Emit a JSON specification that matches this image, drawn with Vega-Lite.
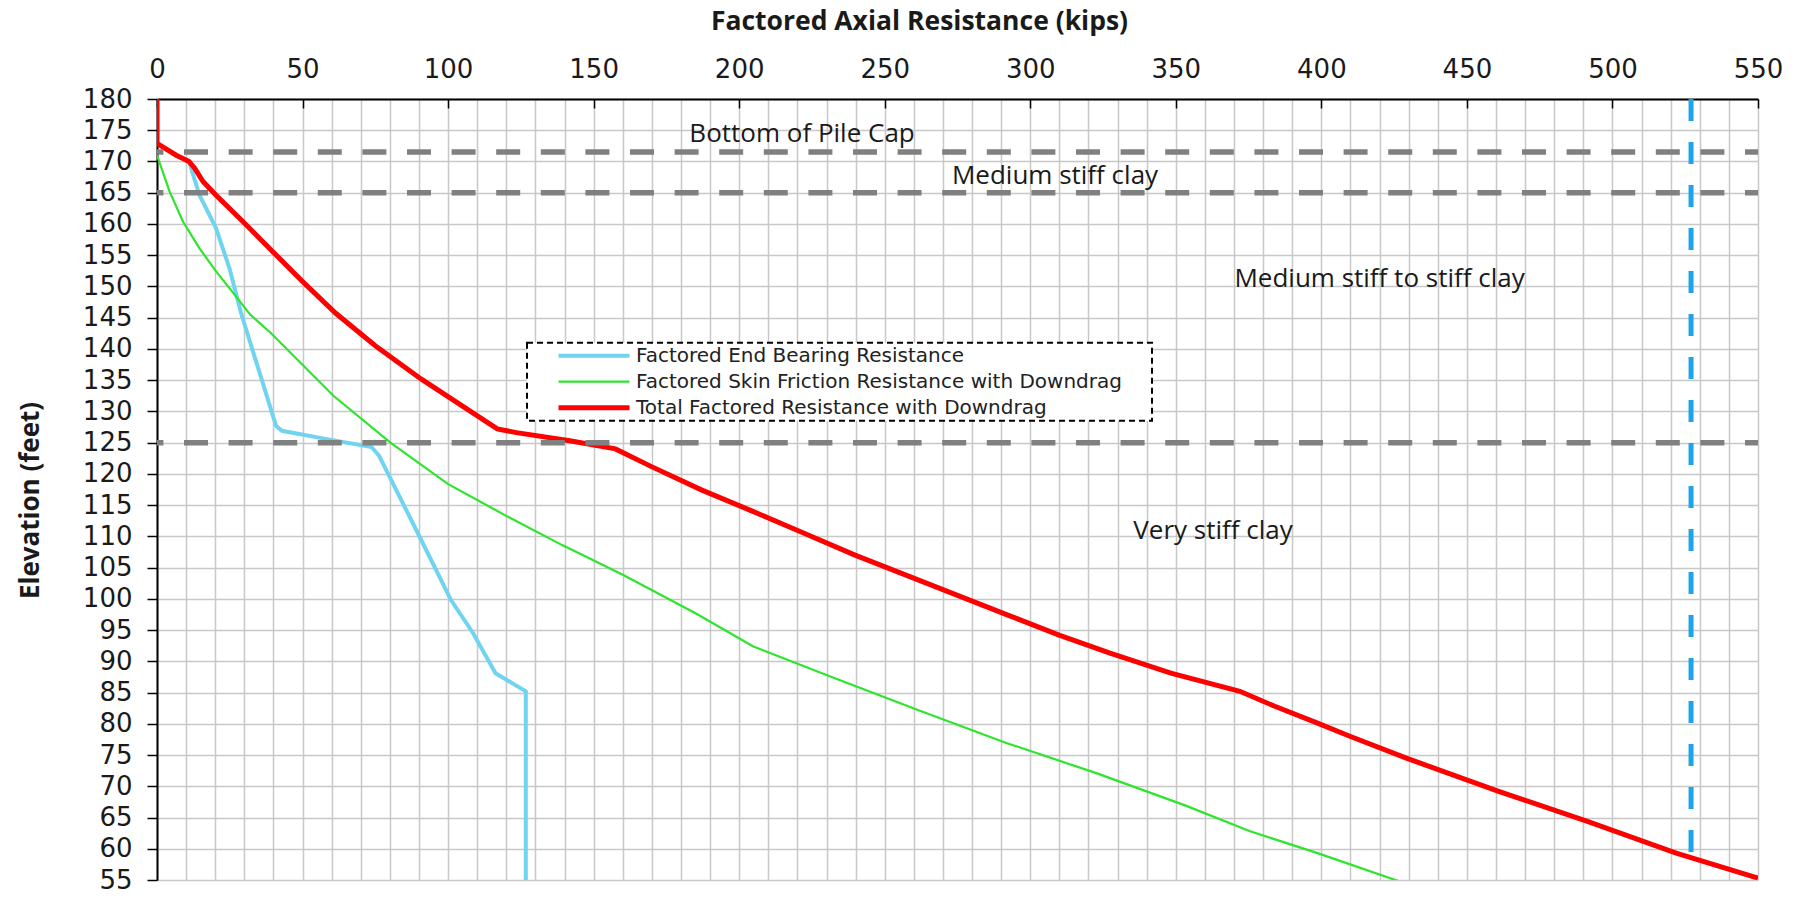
{
  "$schema": "https://vega.github.io/schema/vega-lite/v6.json",
  "width": 1601,
  "height": 781,
  "autosize": {"type": "none"},
  "padding": {"left": 157, "top": 99, "right": 49, "bottom": 19},
  "background": "white",
  "config": {
    "view": {"stroke": null},
    "font": "Open Sans",
    "axis": {"labelOverlap": false},
    "legend": {
      "fillColor": "white",
      "strokeColor": "#000000",
      "strokeDash": [6, 4],
      "strokeWidth": 2,
      "padding": 0,
      "clipHeight": 26,
      "rowPadding": 0,
      "symbolType": "stroke",
      "symbolSize": 5041,
      "symbolOffset": 29,
      "labelOffset": 4,
      "labelFont": "DejaVu Sans",
      "labelFontSize": 20,
      "labelColor": "#222222",
      "labelLimit": 0
    }
  },
  "datasets": {
    "curves": [
      {"series": "Factored End Bearing Resistance", "resistance": 0, "elevation": 172.9},
      {"series": "Factored End Bearing Resistance", "resistance": 6.6, "elevation": 171},
      {"series": "Factored End Bearing Resistance", "resistance": 11, "elevation": 170},
      {"series": "Factored End Bearing Resistance", "resistance": 14.6, "elevation": 164.6},
      {"series": "Factored End Bearing Resistance", "resistance": 20.3, "elevation": 159.3},
      {"series": "Factored End Bearing Resistance", "resistance": 24.9, "elevation": 152.9},
      {"series": "Factored End Bearing Resistance", "resistance": 28.9, "elevation": 145.7},
      {"series": "Factored End Bearing Resistance", "resistance": 40.9, "elevation": 127.7},
      {"series": "Factored End Bearing Resistance", "resistance": 42.9, "elevation": 126.9},
      {"series": "Factored End Bearing Resistance", "resistance": 57.9, "elevation": 125.6},
      {"series": "Factored End Bearing Resistance", "resistance": 73.7, "elevation": 124.3},
      {"series": "Factored End Bearing Resistance", "resistance": 76.3, "elevation": 122.9},
      {"series": "Factored End Bearing Resistance", "resistance": 89.4, "elevation": 110.7},
      {"series": "Factored End Bearing Resistance", "resistance": 101, "elevation": 99.8},
      {"series": "Factored End Bearing Resistance", "resistance": 108.6, "elevation": 94.5},
      {"series": "Factored End Bearing Resistance", "resistance": 116.3, "elevation": 88.1},
      {"series": "Factored End Bearing Resistance", "resistance": 120.9, "elevation": 86.8},
      {"series": "Factored End Bearing Resistance", "resistance": 126.7, "elevation": 85.2},
      {"series": "Factored End Bearing Resistance", "resistance": 126.7, "elevation": 55},
      {"series": "Factored Skin Friction Resistance with Downdrag", "resistance": 0, "elevation": 171},
      {"series": "Factored Skin Friction Resistance with Downdrag", "resistance": 4.3, "elevation": 165.2},
      {"series": "Factored Skin Friction Resistance with Downdrag", "resistance": 8.9, "elevation": 160.4},
      {"series": "Factored Skin Friction Resistance with Downdrag", "resistance": 14.6, "elevation": 156.1},
      {"series": "Factored Skin Friction Resistance with Downdrag", "resistance": 20.3, "elevation": 152.4},
      {"series": "Factored Skin Friction Resistance with Downdrag", "resistance": 28, "elevation": 147.9},
      {"series": "Factored Skin Friction Resistance with Downdrag", "resistance": 32, "elevation": 145.5},
      {"series": "Factored Skin Friction Resistance with Downdrag", "resistance": 39, "elevation": 142.6},
      {"series": "Factored Skin Friction Resistance with Downdrag", "resistance": 60.6, "elevation": 132.5},
      {"series": "Factored Skin Friction Resistance with Downdrag", "resistance": 80.2, "elevation": 125},
      {"series": "Factored Skin Friction Resistance with Downdrag", "resistance": 99.9, "elevation": 118.4},
      {"series": "Factored Skin Friction Resistance with Downdrag", "resistance": 119.5, "elevation": 113.4},
      {"series": "Factored Skin Friction Resistance with Downdrag", "resistance": 139.2, "elevation": 108.6},
      {"series": "Factored Skin Friction Resistance with Downdrag", "resistance": 160.2, "elevation": 103.8},
      {"series": "Factored Skin Friction Resistance with Downdrag", "resistance": 185, "elevation": 97.7},
      {"series": "Factored Skin Friction Resistance with Downdrag", "resistance": 204.7, "elevation": 92.4},
      {"series": "Factored Skin Friction Resistance with Downdrag", "resistance": 231.1, "elevation": 87.6},
      {"series": "Factored Skin Friction Resistance with Downdrag", "resistance": 261.4, "elevation": 82.2},
      {"series": "Factored Skin Friction Resistance with Downdrag", "resistance": 292, "elevation": 76.9},
      {"series": "Factored Skin Friction Resistance with Downdrag", "resistance": 322.7, "elevation": 72.1},
      {"series": "Factored Skin Friction Resistance with Downdrag", "resistance": 353.4, "elevation": 66.9},
      {"series": "Factored Skin Friction Resistance with Downdrag", "resistance": 375.5, "elevation": 62.8},
      {"series": "Factored Skin Friction Resistance with Downdrag", "resistance": 398.7, "elevation": 59.3},
      {"series": "Factored Skin Friction Resistance with Downdrag", "resistance": 426.7, "elevation": 54.8},
      {"series": "Total Factored Resistance with Downdrag", "resistance": 0, "elevation": 180},
      {"series": "Total Factored Resistance with Downdrag", "resistance": 0, "elevation": 172.9},
      {"series": "Total Factored Resistance with Downdrag", "resistance": 6.6, "elevation": 171},
      {"series": "Total Factored Resistance with Downdrag", "resistance": 11, "elevation": 170},
      {"series": "Total Factored Resistance with Downdrag", "resistance": 13, "elevation": 168.9},
      {"series": "Total Factored Resistance with Downdrag", "resistance": 15.8, "elevation": 166.8},
      {"series": "Total Factored Resistance with Downdrag", "resistance": 20.3, "elevation": 164.6},
      {"series": "Total Factored Resistance with Downdrag", "resistance": 29.5, "elevation": 160.4},
      {"series": "Total Factored Resistance with Downdrag", "resistance": 39.7, "elevation": 155.6},
      {"series": "Total Factored Resistance with Downdrag", "resistance": 50, "elevation": 150.8},
      {"series": "Total Factored Resistance with Downdrag", "resistance": 61.4, "elevation": 145.7},
      {"series": "Total Factored Resistance with Downdrag", "resistance": 75, "elevation": 140.5},
      {"series": "Total Factored Resistance with Downdrag", "resistance": 90.7, "elevation": 135.2},
      {"series": "Total Factored Resistance with Downdrag", "resistance": 106.4, "elevation": 130.4},
      {"series": "Total Factored Resistance with Downdrag", "resistance": 116.9, "elevation": 127.2},
      {"series": "Total Factored Resistance with Downdrag", "resistance": 123.5, "elevation": 126.6},
      {"series": "Total Factored Resistance with Downdrag", "resistance": 141.8, "elevation": 125.3},
      {"series": "Total Factored Resistance with Downdrag", "resistance": 157.5, "elevation": 124},
      {"series": "Total Factored Resistance with Downdrag", "resistance": 169.7, "elevation": 121.2},
      {"series": "Total Factored Resistance with Downdrag", "resistance": 187.2, "elevation": 117.4},
      {"series": "Total Factored Resistance with Downdrag", "resistance": 204.7, "elevation": 114},
      {"series": "Total Factored Resistance with Downdrag", "resistance": 222.3, "elevation": 110.5},
      {"series": "Total Factored Resistance with Downdrag", "resistance": 239.8, "elevation": 107},
      {"series": "Total Factored Resistance with Downdrag", "resistance": 257.3, "elevation": 103.8},
      {"series": "Total Factored Resistance with Downdrag", "resistance": 274.8, "elevation": 100.6},
      {"series": "Total Factored Resistance with Downdrag", "resistance": 292.3, "elevation": 97.4},
      {"series": "Total Factored Resistance with Downdrag", "resistance": 309.9, "elevation": 94.2},
      {"series": "Total Factored Resistance with Downdrag", "resistance": 327.4, "elevation": 91.3},
      {"series": "Total Factored Resistance with Downdrag", "resistance": 348.3, "elevation": 88.1},
      {"series": "Total Factored Resistance with Downdrag", "resistance": 372, "elevation": 85.2},
      {"series": "Total Factored Resistance with Downdrag", "resistance": 384, "elevation": 82.8},
      {"series": "Total Factored Resistance with Downdrag", "resistance": 398.7, "elevation": 80.1},
      {"series": "Total Factored Resistance with Downdrag", "resistance": 409.8, "elevation": 78},
      {"series": "Total Factored Resistance with Downdrag", "resistance": 429.2, "elevation": 74.5},
      {"series": "Total Factored Resistance with Downdrag", "resistance": 460.9, "elevation": 69.2},
      {"series": "Total Factored Resistance with Downdrag", "resistance": 491.4, "elevation": 64.4},
      {"series": "Total Factored Resistance with Downdrag", "resistance": 521.9, "elevation": 59.3},
      {"series": "Total Factored Resistance with Downdrag", "resistance": 550, "elevation": 55.3}
    ],
    "boundaries": [
      {"elevation": 171.5},
      {"elevation": 165},
      {"elevation": 125}
    ],
    "limit": [
      {"resistance": 527, "top": 180, "bottom": 57}
    ],
    "labels": [
      {"label": "Bottom of Pile Cap", "resistance": 221.6, "elevation": 174.4},
      {"label": "Medium stiff clay", "resistance": 308.5, "elevation": 167.6},
      {"label": "Medium stiff to stiff clay", "resistance": 420, "elevation": 151.2},
      {"label": "Very stiff clay", "resistance": 362.8, "elevation": 110.8}
    ]
  },
  "layer": [
    {
      "data": {"name": "curves"},
      "mark": {"type": "line", "clip": true},
      "encoding": {
        "x": {
          "field": "resistance",
          "type": "quantitative",
          "title": "Factored Axial Resistance (kips)",
          "scale": {"domain": [0, 550], "nice": false, "zero": false},
          "axis": {
            "orient": "top",
            "values": [0,10,20,30,40,50,60,70,80,90,100,110,120,130,140,150,160,170,180,190,200,210,220,230,240,250,260,270,280,290,300,310,320,330,340,350,360,370,380,390,400,410,420,430,440,450,460,470,480,490,500,510,520,530,540,550],
            "tickCount": 200,
            "format": "d",
            "labelExpr": "datum.value % 50 === 0 ? datum.label : ''",
            "labelFont": "DejaVu Sans",
            "labelFontSize": 26,
            "labelColor": "#1a1a1a",
            "labelPadding": 26,
            "labelFlush": false,
            "labelOverlap": false,
            "grid": true,
            "gridColor": "#c8c8c8",
            "gridWidth": 1.5,
            "domainColor": "#000000",
            "domainWidth": 2,
            "tickColor": "#000000",
            "tickWidth": 1.5,
            "tickSize": -9,
            "tickOpacity": {"condition": {"test": "datum.value % 50 === 0", "value": 1}, "value": 0},
            "titleFont": "Open Sans",
            "titleFontWeight": "bold",
            "titleFontSize": 26.5,
            "titleColor": "#1a1a1a",
            "titleX": 762,
            "titleY": -78,
            "titleAlign": "center",
            "titleBaseline": "middle"
          }
        },
        "y": {
          "field": "elevation",
          "type": "quantitative",
          "title": "Elevation (feet)",
          "scale": {"domain": [55, 180], "nice": false, "zero": false},
          "axis": {
            "values": [55,60,65,70,75,80,85,90,95,100,105,110,115,120,125,130,135,140,145,150,155,160,165,170,175,180],
            "tickCount": 200,
            "format": "d",
            "labelFont": "DejaVu Sans",
            "labelFontSize": 26,
            "labelColor": "#1a1a1a",
            "labelPadding": 15,
            "labelOverlap": false,
            "grid": true,
            "gridColor": "#c8c8c8",
            "gridWidth": 1.5,
            "domainColor": "#000000",
            "domainWidth": 2,
            "tickColor": "#000000",
            "tickWidth": 1.5,
            "tickSize": 10,
            "titleFont": "Open Sans",
            "titleFontWeight": "bold",
            "titleFontSize": 26,
            "titleColor": "#1a1a1a",
            "titleX": -127,
            "titleY": 401,
            "titleAngle": 270,
            "titleAlign": "center",
            "titleBaseline": "middle"
          }
        },
        "color": {
          "field": "series",
          "type": "nominal",
          "title": null,
          "scale": {
            "domain": ["Factored End Bearing Resistance", "Factored Skin Friction Resistance with Downdrag", "Total Factored Resistance with Downdrag"],
            "range": ["#70d4f0", "#2ee52e", "#ff0000"]
          },
          "legend": {
            "orient": "none",
            "legendX": 370,
            "legendY": 243.7,
            "labelExpr": "datum.label + '\u2800\u2800'"
          }
        },
        "strokeWidth": {
          "field": "series",
          "type": "nominal",
          "title": null,
          "scale": {
            "type": "ordinal",
            "domain": ["Factored End Bearing Resistance", "Factored Skin Friction Resistance with Downdrag", "Total Factored Resistance with Downdrag"],
            "range": [4, 2.2, 5]
          },
          "legend": {
            "orient": "none",
            "legendX": 370,
            "legendY": 243.7,
            "labelExpr": "datum.label + '\u2800\u2800'"
          }
        },
        "order": {"field": "elevation", "sort": "descending"}
      }
    },
    {
      "data": {"name": "boundaries"},
      "mark": {"type": "rule", "color": "#808080", "strokeWidth": 5.5, "strokeDash": [24, 20.6], "strokeDashOffset": 11},
      "encoding": {
        "y": {"field": "elevation", "type": "quantitative", "title": "Elevation (feet)"}
      }
    },
    {
      "data": {"name": "limit"},
      "mark": {"type": "rule", "color": "#1ea5e9", "strokeWidth": 5, "strokeDash": [22, 21]},
      "encoding": {
        "x": {"field": "resistance", "type": "quantitative", "title": "Factored Axial Resistance (kips)"},
        "y": {"field": "top", "type": "quantitative", "title": "Elevation (feet)"},
        "y2": {"field": "bottom"}
      }
    },
    {
      "data": {"name": "labels"},
      "mark": {"type": "text", "font": "Open Sans", "fontSize": 26, "color": "#1a1a1a", "align": "center", "baseline": "middle"},
      "encoding": {
        "x": {"field": "resistance", "type": "quantitative", "title": "Factored Axial Resistance (kips)"},
        "y": {"field": "elevation", "type": "quantitative", "title": "Elevation (feet)"},
        "text": {"field": "label"}
      }
    }
  ]
}
